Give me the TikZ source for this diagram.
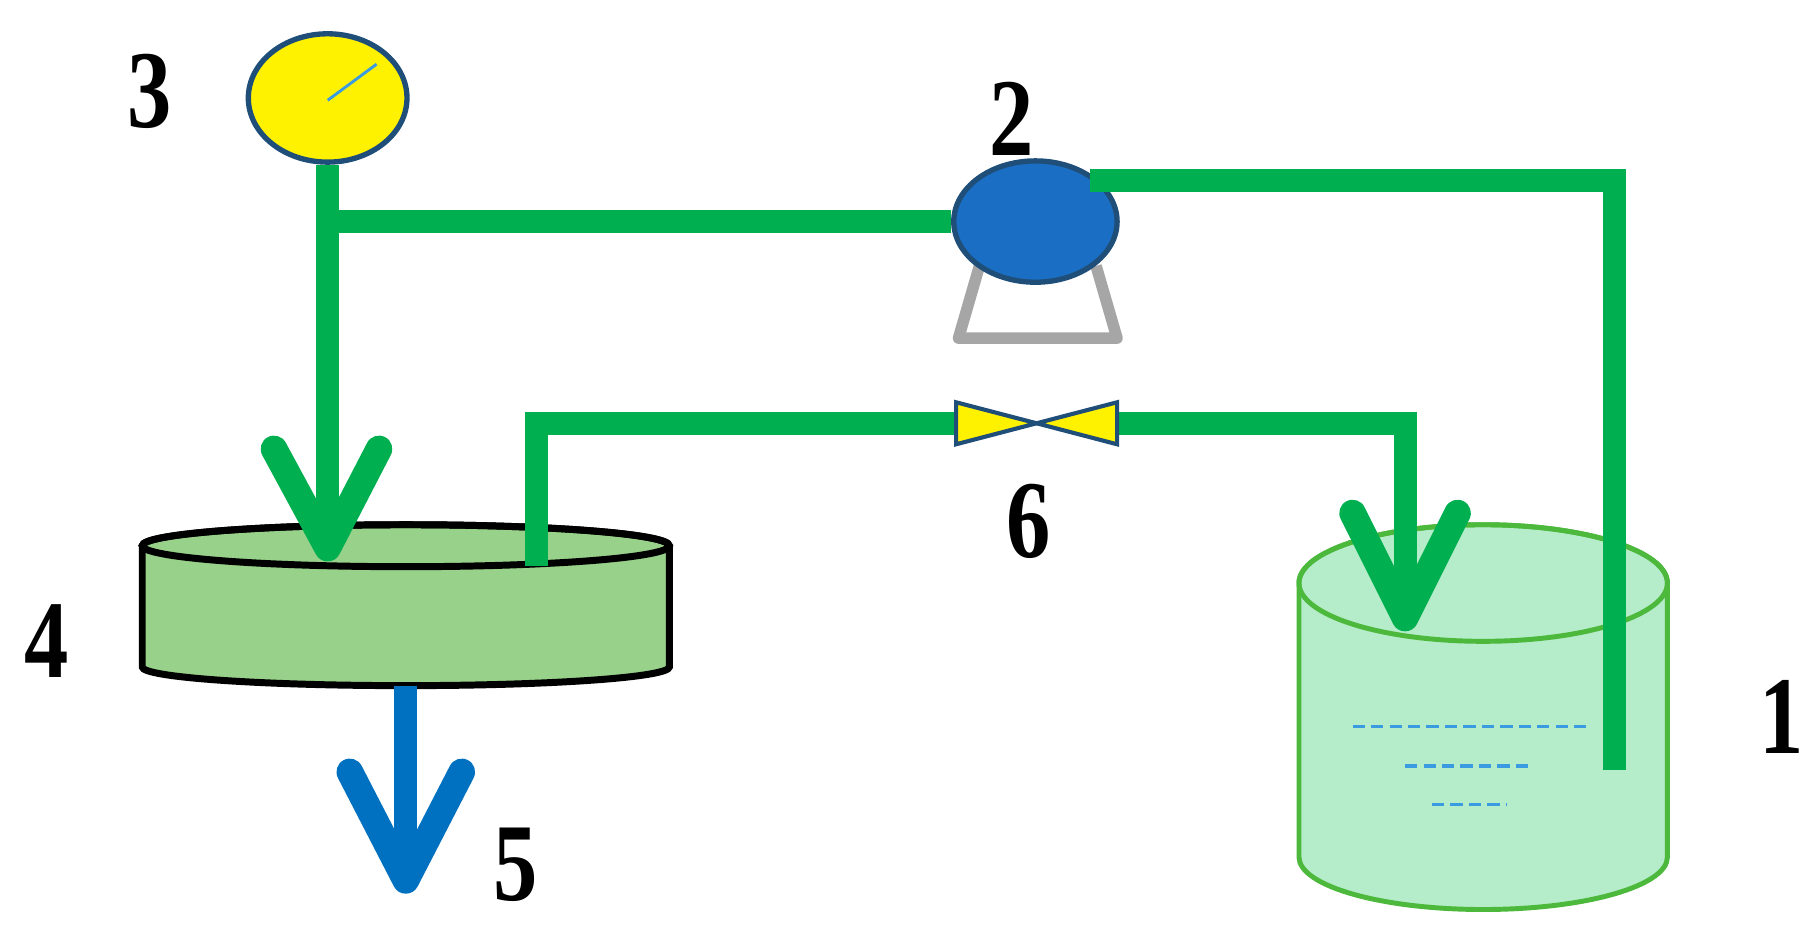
\documentclass[tikz,border=0pt]{standalone}
\usepackage{fontspec}
\setmainfont{Liberation Serif}
\usetikzlibrary{shapes.geometric}
\begin{document}
\begin{tikzpicture}[x=0.01cm,y=-0.01cm,
  lab/.style={font=\fontsize{27}{27}\selectfont\bfseries,inner sep=0pt,xscale=0.8}]
\definecolor{pgreen}{HTML}{00B050}
\definecolor{dblue}{HTML}{1F4E79}
\definecolor{pblue}{HTML}{1A6FC4}
\definecolor{fgreen}{HTML}{97D18A}
\definecolor{tgreen}{HTML}{B5ECC9}
\definecolor{tedge}{HTML}{4CB83C}
\definecolor{wblue}{HTML}{0070C0}
\definecolor{lblue}{HTML}{3A9BE0}
\useasboundingbox (0,0) rectangle (1560,805);
% tank 1
\path[fill=tgreen,draw=tedge,line width=1.2pt] (1114,500) -- (1114,735) arc[start angle=180,end angle=0,x radius=158,y radius=45] -- (1430,500) arc[start angle=0,end angle=-180,x radius=158,y radius=50] -- cycle;
\draw[tedge,line width=1.2pt] (1272,500) ellipse[x radius=158,y radius=50];
\draw[lblue,line width=0.8pt,dash pattern=on 3pt off 1.5pt] (1160,623) -- (1362,623) (1205,657) -- (1315,657) (1228,690) -- (1292,690);
% filter 4
\path[fill=fgreen,draw=black,line width=1.7pt] (122,468) -- (122,572) arc[start angle=180,end angle=0,x radius=226,y radius=16] -- (574,468) arc[start angle=0,end angle=-180,x radius=226,y radius=18] -- cycle;
\draw[black,line width=1.7pt] (348,468) ellipse[x radius=226,y radius=18];
% gauge
\node[ellipse,draw=dblue,fill=yellow,line width=1.3pt,minimum width=1.36cm,minimum height=1.1cm,inner sep=0pt] (g) at (281,84) {};
\draw[lblue,line width=0.7pt] (281,86) -- (323,55);
% pump stand
\draw[gray!70,line width=2.8pt,line join=round] (840,228) -- (822,290) -- (958,290) -- (940,228);
\node[ellipse,draw=dblue,fill=pblue,line width=1.3pt,minimum width=1.4cm,minimum height=1.04cm,inner sep=0pt] (p) at (888,190) {};
% pipes
\draw[pgreen,line width=5.6pt] (g.south) -- (281,470);
\draw[pgreen,line width=5.6pt] (274,190) -- (p.west);
\draw[pgreen,line width=6.5pt,line cap=round,line join=round] (235,385) -- (281,470) -- (325,385);
\draw[pgreen,line width=5.6pt] (935,155) -- (1385,155) -- (1385,660);
\draw[pgreen,line width=5.6pt] (460,485) -- (460,363) -- (820,363);
\draw[pgreen,line width=5.6pt] (958,363) -- (1205,363) -- (1205,530);
\draw[pgreen,line width=6.5pt,line cap=round,line join=round] (1160,440) -- (1205,530) -- (1250,440);
% valve
\draw[dblue,fill=yellow,line width=1pt] (820,345) -- (889,363) -- (820,381) -- cycle;
\draw[dblue,fill=yellow,line width=1pt] (958,345) -- (889,363) -- (958,381) -- cycle;
% outlet 5
\draw[wblue,line width=5.6pt] (348,588) -- (348,750);
\draw[wblue,line width=6.5pt,line cap=round,line join=round] (300,662) -- (348,755) -- (396,662);
% labels
\node[lab] (l1) at (1528,615) {1};
\node[lab] (l2) at (868,102) {2};
\node[lab] (l3) at (128,78) {3};
\node[lab] (l4) at (40,550) {4};
\node[lab] (l5) at (442,742) {5};
\node[lab] (l6) at (882,447) {6};
\end{tikzpicture}
\end{document}
